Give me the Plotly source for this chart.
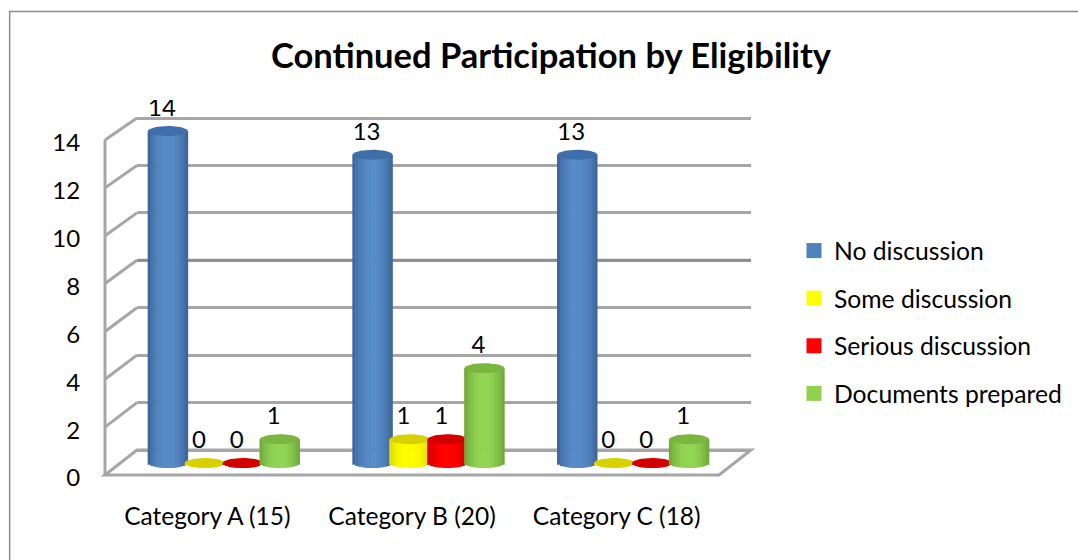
import numpy as np
import plotly.graph_objects as go

categories = ["Category A (15)", "Category B (20)", "Category C (18)"]
no_discussion = [14, 13, 13]
some_discussion = [0, 1, 0]
serious_discussion = [0, 1, 0]
documents_prepared = [1, 4, 1]
series_names = ["No discussion", "Some discussion", "Serious discussion", "Documents prepared"]
series_values = [no_discussion, some_discussion, serious_discussion, documents_prepared]
y_ticks = [0, 2, 4, 6, 8, 10, 12, 14]

W, H = 1078, 560
L, R, T, B = 105, 752, 100, 487
FONT = "Lato"
PW, PH = R - L, B - T
CAT_PX = 205.0
BAR_PX = 23.71
LABEL_PX = 23.93
xr = [(L - 224) / CAT_PX, (R - 224) / CAT_PX]
offsets = [-56 / CAT_PX, -19 / CAT_PX, 19 / CAT_PX, 56 / CAT_PX]
RX = 20 / CAT_PX
RY = 5 / BAR_PX

legend_col = ["#4f81bd", "#ffff00", "#ff0000", "#92d050"]
center_col = [(88, 140, 200), (255, 255, 0), (255, 0, 0), (146, 214, 84)]
edge_col = [(58, 98, 150), (226, 218, 0), (210, 0, 0), (110, 165, 56)]
cap_col = ["#3f6faa", "#d8d000", "#d40000", "#7ab53e"]


def px(x):
    return (x - L) / PW


def py(y):
    return (B - y) / PH


fig = go.Figure()
# empty traces so that the tick-label axis and the back-wall axis are kept
fig.add_trace(go.Scatter(x=[None], y=[None], xaxis="x", yaxis="y", showlegend=False, hoverinfo="skip"))
fig.add_trace(go.Scatter(x=[None], y=[None], xaxis="x2", yaxis="y2", showlegend=False, hoverinfo="skip"))
# the one heavier gridline on the back wall (value 8)
fig.add_trace(go.Scatter(
    x=[(137 - 224) / CAT_PX, xr[1]], y=[8 + (463 - 450) / BAR_PX] * 2, mode="lines",
    line=dict(color="#8f8f8f", width=3), xaxis="x", yaxis="y3",
    showlegend=False, hoverinfo="skip", zorder=-1,
))

N = 14
theta = np.linspace(0, 2 * np.pi, 49)
for s, (name, vals) in enumerate(zip(series_names, series_values)):
    xs = [i + offsets[s] for i in range(len(categories))]
    for k in range(N):
        t = (k + 0.5) / N * 2 - 1
        mix = abs(t) ** 2.2
        col = tuple(int(center_col[s][c] * (1 - mix) + edge_col[s][c] * mix) for c in range(3))
        sag = RY * np.sqrt(1 - t * t)
        fig.add_trace(go.Bar(
            x=[x + t * RX for x in xs],
            y=[v + sag for v in vals],
            base=[-sag] * len(vals),
            width=2 * RX / N * 1.2,
            marker=dict(color="rgb(%d,%d,%d)" % col, line=dict(width=0)),
            xaxis="x", yaxis="y3", showlegend=False, hoverinfo="skip", zorder=2 * s,
        ))
    ex, ey = [], []
    for x, v in zip(xs, vals):
        ex += list(x + RX * np.cos(theta)) + [None]
        ey += list(v + RY * np.sin(theta)) + [None]
    fig.add_trace(go.Scatter(
        x=ex, y=ey, mode="lines", fill="toself", fillcolor=cap_col[s],
        line=dict(width=0, color=cap_col[s]), xaxis="x", yaxis="y3",
        showlegend=False, hoverinfo="skip", zorder=2 * s + 1,
    ))
    fig.add_trace(go.Scatter(
        x=[x - 6 / CAT_PX for x in xs], y=[v + 0.88 for v in vals],
        text=[str(v) for v in vals], mode="text", textposition="middle center",
        textfont=dict(family=FONT, size=24, color="#000000"),
        xaxis="x", yaxis="y3", showlegend=False, hoverinfo="skip", zorder=20,
    ))
    fig.add_trace(go.Scatter(
        x=[None], y=[None], mode="markers", name=name, legendgroup=name,
        marker=dict(symbol="square", size=15, color=legend_col[s]),
        xaxis="x", yaxis="y3",
    ))

GRID = "#a6a6a6"
shapes = [
    dict(type="rect", xref="paper", yref="paper", x0=px(9.5), x1=px(1200), y0=py(11.5), y1=py(700),
         line=dict(color="#8c8c8c", width=1.5), fillcolor="rgba(0,0,0,0)", layer="below"),
    dict(type="path", xref="paper", yref="paper",
         path="M %f %f L %f %f L %f %f L %f %f Z" % (px(105), py(475), px(720), py(475), px(752), py(450), px(137), py(450)),
         line=dict(color=GRID, width=3), fillcolor="#ffffff", layer="below"),
    dict(type="line", xref="paper", yref="paper", x0=px(105), x1=px(105), y0=py(140), y1=py(475),
         line=dict(color=GRID, width=3), layer="below"),
]
for v in y_ticks[1:]:
    back = 450 - BAR_PX * v
    front = 475 - (475 - 140) / 14 * v
    shapes.append(dict(type="line", xref="paper", yref="paper", x0=px(105), x1=px(137), y0=py(front), y1=py(back),
                       line=dict(color=GRID, width=3), layer="below"))

fig.update_layout(
    width=W, height=H,
    margin=dict(l=L, r=W - R, t=T, b=H - B, pad=0),
    paper_bgcolor="#ffffff", plot_bgcolor="rgba(0,0,0,0)",
    barmode="overlay",
    title=dict(text="<b>Continued Participation by Eligibility</b>", x=551 / W, xanchor="center",
               y=1 - 56 / H, yanchor="middle", font=dict(family=FONT, size=34.5, color="#000000")),
    font=dict(family=FONT, color="#000000"),
    shapes=shapes,
    showlegend=True,
    legend=dict(x=(794 - L) / PW, xanchor="left", y=py(228), yanchor="top", tracegroupgap=12.5,
                font=dict(family=FONT, size=24.7, color="#000000"), bgcolor="rgba(0,0,0,0)"),
    xaxis=dict(domain=[0, 1], range=xr, tickmode="array",
               tickvals=[i - 16.5 / CAT_PX for i in range(len(categories))], ticktext=categories,
               showgrid=False, zeroline=False, showline=False, ticks="outside", ticklen=8,
               tickcolor="rgba(0,0,0,0)", tickfont=dict(family=FONT, size=24.5), anchor="y"),
    yaxis=dict(domain=[0, 1], range=[(478 - B) / LABEL_PX, (478 - T) / LABEL_PX], tickmode="array", tickvals=y_ticks,
               showgrid=False, zeroline=False, showline=False, ticks="outside", ticklen=19,
               tickcolor="rgba(0,0,0,0)", tickfont=dict(family=FONT, size=24), anchor="x"),
    xaxis2=dict(domain=[px(137), 1], range=[0, 1], visible=False, anchor="y2"),
    yaxis2=dict(domain=[0, 1], range=[(450 - B) / BAR_PX, (450 - T) / BAR_PX], tickmode="array",
                tickvals=y_ticks, showgrid=True, gridcolor=GRID, gridwidth=3, zeroline=False,
                showticklabels=False, ticks="", showline=False, anchor="x2"),
    yaxis3=dict(domain=[0, 1], range=[(463 - B) / BAR_PX, (463 - T) / BAR_PX], overlaying="y",
                visible=False, anchor="x"),
)

fig.write_html("out.html", config={"displayModeBar": False},
               post_script="document.body.style.margin='0';")
